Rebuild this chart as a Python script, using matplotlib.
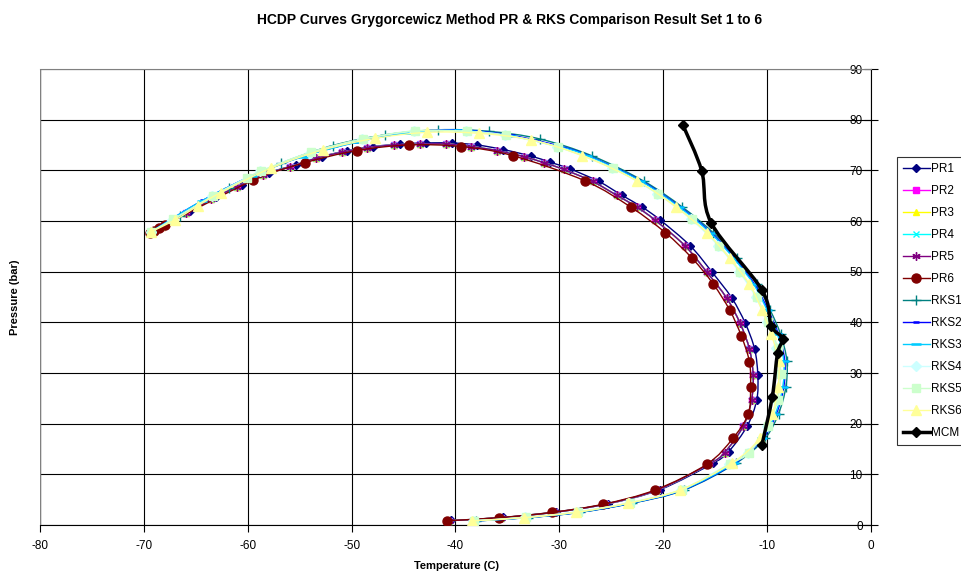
import numpy as np
import matplotlib
matplotlib.use("Agg")
import matplotlib.pyplot as plt
from matplotlib.path import Path
from matplotlib.patches import PathPatch
from matplotlib.lines import Line2D

plt.rcParams['font.family'] = ['Liberation Sans', 'DejaVu Sans']

# ---- data (T in C, P in bar) ----
pr1_t = [-40.4, -35.4, -30.3, -25.3, -20.3, -15.2, -13.7, -11.9, -11.0, -10.9, -11.2, -12.1, -13.4, -15.3,
         -17.4, -20.3, -22.0, -24.0, -26.2, -29.0, -30.9, -32.7, -35.4, -37.9, -40.3, -42.8, -45.3, -47.9,
         -50.4, -52.9, -55.4, -58.0, -60.6, -63.1, -65.6, -68.1, -69.4]
pr1_p = [0.9, 1.5, 2.6, 4.2, 7.0, 12.2, 14.5, 19.6, 24.7, 29.6, 34.7, 39.8, 44.8, 49.9,
         55.1, 60.2, 62.7, 65.1, 67.8, 70.3, 71.6, 72.8, 74.1, 75.0, 75.4, 75.4, 75.2, 74.7,
         73.9, 72.7, 71.1, 69.5, 67.2, 64.7, 61.9, 59.0, 57.8]

# PR2 .. PR5 lie on top of each other
pr_mid_t = [-40.6, -35.6, -30.5, -25.6, -20.6, -15.6, -14.1, -12.3, -11.5, -11.35, -11.7, -12.6, -13.9, -15.8,
            -17.9, -20.8, -22.5, -24.5, -26.8, -29.6, -31.5, -33.4, -36.0, -38.5, -40.9, -43.4, -45.9, -48.5,
            -50.9, -53.4, -55.9, -58.5, -61.0, -63.5, -65.9, -68.3, -69.3]
pr_mid_p = [0.85, 1.45, 2.5, 4.1, 6.9, 12.0, 14.3, 19.5, 24.7, 29.6, 34.7, 39.8, 44.8, 49.9,
            55.1, 60.2, 62.7, 65.1, 67.8, 70.2, 71.5, 72.7, 73.9, 74.7, 75.2, 75.2, 75.0, 74.5,
            73.6, 72.4, 70.7, 69.1, 66.8, 64.3, 61.5, 58.8, 57.9]

pr6_t = [-40.8, -35.8, -30.7, -25.8, -20.8, -15.8, -13.3, -11.8, -11.6, -11.7, -12.5, -13.6, -15.2, -17.2,
         -19.8, -23.1, -27.5, -34.5, -39.5, -44.5, -49.5, -54.5, -59.5, -68.0, -68.5, -69.0, -69.4]
pr6_p = [0.85, 1.45, 2.5, 4.1, 6.9, 12.0, 17.1, 22.0, 27.2, 32.2, 37.4, 42.4, 47.6, 52.6,
         57.7, 62.7, 67.9, 72.9, 74.7, 75.0, 73.9, 71.5, 68.0, 59.2, 58.6, 58.1, 57.7]

rks1_t = [-38.0, -33.0, -28.0, -23.0, -18.0, -13.0, -10.2, -8.9, -8.2, -8.1, -8.7, -9.7, -11.0, -12.9,
          -15.2, -18.2, -21.9, -26.9, -31.9, -36.8, -41.7, -46.8, -51.8, -56.8, -61.8, -66.5, -69.3]
rks1_p = [0.8, 1.45, 2.5, 4.3, 6.9, 12.2, 17.1, 22.0, 27.2, 32.4, 37.6, 42.4, 47.5, 52.6,
          57.7, 62.8, 67.9, 72.9, 76.2, 77.7, 78.0, 77.0, 74.9, 71.4, 66.6, 61.0, 57.9]

rks2_t = [-38.1, -33.1, -28.1, -23.1, -18.1, -13.1, -10.4, -9.1, -8.4, -8.3, -8.9, -9.9, -11.2, -13.1,
          -15.4, -18.4, -22.1, -27.2, -30.0, -34.6, -39.6, -44.5, -49.5, -54.6, -59.5, -64.3, -69.3]
rks2_p = [0.8, 1.45, 2.5, 4.3, 6.9, 12.2, 17.1, 22.0, 27.2, 32.4, 37.6, 42.4, 47.5, 52.6,
          57.7, 62.8, 67.9, 72.9, 74.8, 76.9, 78.0, 77.5, 75.6, 72.8, 69.0, 64.1, 57.9]

rks3_t = [-38.2, -33.2, -28.2, -23.2, -18.2, -13.2, -10.5, -9.2, -8.5, -8.4, -9.0, -10.0, -11.3, -13.2,
          -15.5, -18.5, -22.2, -27.3, -30.1, -34.7, -39.7, -44.6, -49.6, -54.7, -59.6, -64.4, -69.3]
rks3_p = [0.8, 1.45, 2.5, 4.3, 6.9, 12.2, 17.1, 22.0, 27.2, 32.4, 37.6, 42.4, 47.5, 52.6,
          57.7, 62.8, 67.9, 72.9, 74.7, 76.8, 77.9, 77.4, 75.5, 72.7, 68.9, 64.0, 57.9]

rks4_t = [-38.3, -33.3, -28.3, -23.3, -18.3, -13.7, -11.8, -10.0, -9.1, -8.8, -9.1, -10.0, -11.1, -12.7,
          -14.7, -17.3, -20.6, -24.9, -30.2, -35.2, -39.0, -44.0, -49.0, -54.0, -58.8, -63.4, -67.3, -69.3]
rks4_p = [0.85, 1.5, 2.6, 4.4, 7.0, 12.0, 14.3, 19.6, 24.7, 29.8, 35.0, 40.0, 45.0, 50.0,
          55.1, 60.3, 65.4, 70.4, 74.6, 76.9, 77.7, 77.7, 76.1, 73.5, 69.8, 64.9, 60.2, 57.9]

rks5_t = [-38.2, -33.2, -28.2, -23.2, -18.2, -13.6, -11.7, -9.9, -9.0, -8.7, -9.0, -9.9, -11.0, -12.6,
          -14.6, -17.2, -20.5, -24.8, -30.1, -35.1, -38.9, -43.9, -48.9, -53.9, -58.7, -60.1, -63.3, -67.2, -69.3]
rks5_p = [0.85, 1.5, 2.6, 4.4, 7.0, 12.0, 14.3, 19.6, 24.7, 29.8, 35.0, 40.0, 45.0, 50.0,
          55.1, 60.3, 65.4, 70.4, 74.6, 76.9, 77.7, 77.8, 76.2, 73.6, 69.9, 68.4, 65.0, 60.3, 57.9]

rks6_t = [-38.4, -33.4, -28.4, -23.4, -18.4, -13.4, -10.7, -9.5, -8.95, -8.9, -9.6, -10.5, -11.7, -13.6,
          -15.8, -18.8, -22.5, -27.8, -32.7, -37.75, -42.7, -47.75, -52.8, -57.8, -62.6, -64.8, -67.0, -69.3]
rks6_p = [0.8, 1.45, 2.5, 4.3, 6.9, 12.2, 17.1, 22.0, 27.2, 32.4, 37.6, 42.4, 47.5, 52.6,
          57.7, 62.8, 67.9, 72.9, 76.0, 77.3, 77.5, 76.3, 74.0, 70.4, 65.6, 63.0, 60.2, 57.9]

mcm_t = [-18.1, -16.3, -15.4, -10.5, -9.6, -8.5, -9.0, -9.5, -10.5]
mcm_p = [78.9, 69.9, 59.7, 46.4, 39.3, 36.8, 33.9, 25.3, 15.8]

x_ticks = [-80, -70, -60, -50, -40, -30, -20, -10, 0]
y_ticks = [0, 10, 20, 30, 40, 50, 60, 70, 80, 90]

# (label, T, P, colour, marker, marker size, line width)
series = [
    ("PR1", pr1_t, pr1_p, "#000080", "D", 4, 1.0),
    ("PR2", pr_mid_t, pr_mid_p, "#FF00FF", "s", 5, 1.0),
    ("PR3", pr_mid_t, pr_mid_p, "#FFFF00", "^", 5, 1.0),
    ("PR4", pr_mid_t, pr_mid_p, "#00FFFF", "x", 5, 1.0),
    ("PR5", pr_mid_t, pr_mid_p, "#800080", (6, 2, 0), 6, 1.0),
    ("PR6", pr6_t, pr6_p, "#800000", "o", 6.5, 1.0),
    ("RKS1", rks1_t, rks1_p, "#008080", "+", 7, 1.0),
    ("RKS2", rks2_t, rks2_p, "#0000FF", "_", 5, 1.0),
    ("RKS3", rks3_t, rks3_p, "#00CCFF", "_", 7, 1.0),
    ("RKS4", rks4_t, rks4_p, "#CCFFFF", "D", 5, 1.0),
    ("RKS5", rks5_t, rks5_p, "#CCFFCC", "s", 6, 1.0),
    ("RKS6", rks6_t, rks6_p, "#FFFF99", "^", 7, 1.0),
    ("MCM", mcm_t, mcm_p, "#000000", "D", 5, 2.5),
]


def smooth_path(x, y):
    # excel style smoothed line through the points
    pts = np.column_stack([x, y]).astype(float)
    n = len(pts)
    verts = [pts[0]]
    codes = [Path.MOVETO]
    for i in range(n - 1):
        p0 = pts[max(i - 1, 0)]
        p1 = pts[i]
        p2 = pts[i + 1]
        p3 = pts[min(i + 2, n - 1)]
        verts += [p1 + (p2 - p0) / 6.0, p2 - (p3 - p1) / 6.0, p2]
        codes += [Path.CURVE4] * 3
    return Path(verts, codes)


fig = plt.figure(figsize=(9.61, 5.75), dpi=100)
ax = fig.add_axes([40 / 961, 1 - 525 / 575, 831 / 961, 456 / 575])

handles = []
for k, (name, t, p, col, mk, ms, lw) in enumerate(series):
    z = 3 + k * 0.1
    ax.add_patch(PathPatch(smooth_path(t, p), fill=False, edgecolor=col, lw=lw, zorder=z))
    mew = 1.8 if mk == "_" else 1.0
    ax.plot(t, p, ls="none", marker=mk, ms=ms, color=col, mec=col, mfc=col, mew=mew, zorder=z + 0.05)
    handles.append(Line2D([], [], color=col, lw=lw, marker=mk, ms=ms, mec=col, mfc=col, mew=mew, label=name))

ax.set_xlim(-80, 0)
ax.set_ylim(0, 90)
ax.set_xticks(x_ticks)
ax.set_yticks(y_ticks)
ax.set_xticklabels([str(v) for v in x_ticks])
ax.set_yticklabels([str(v) for v in y_ticks])

ax.grid(True, color="black", lw=0.8)
ax.set_axisbelow(True)

# y axis sits at T = 0 on the right, labels left of it
ax.spines["left"].set_position(("data", 0))
ax.spines["left"].set_color("black")
ax.spines["right"].set_visible(False)
ax.spines["top"].set_color("#808080")
ax.spines["bottom"].set_color("black")
ax.axvline(-80, color="#808080", lw=1.0, zorder=2.6)

ax.tick_params(axis="y", direction="inout", length=10, width=0.8, labelsize=8.5, pad=1)
ax.tick_params(axis="x", direction="out", length=5, width=0.8, labelsize=8.5, pad=6)

fig.text(510 / 961, 1 - 20 / 575, "HCDP Curves Grygorcewicz Method PR & RKS Comparison Result Set 1 to 6",
         ha="center", va="center", fontsize=10, fontweight="bold")
fig.text(456 / 961, 1 - 566 / 575, "Temperature (C)", ha="center", va="center", fontsize=8, fontweight="bold")
fig.text(15 / 961, 1 - 297 / 575, "Pressure (bar)", ha="center", va="center", rotation=90,
         fontsize=8, fontweight="bold")

leg = fig.legend(handles=handles, loc="upper left", bbox_to_anchor=(897 / 961, 1 - 157 / 575),
                 frameon=True, fancybox=False, fontsize=8.5, labelspacing=0.85,
                 handlelength=2.3, handletextpad=0.1, borderpad=0.5, borderaxespad=0)
leg.get_frame().set_edgecolor("black")
leg.get_frame().set_linewidth(0.8)

fig.savefig("out.png", dpi=100)
